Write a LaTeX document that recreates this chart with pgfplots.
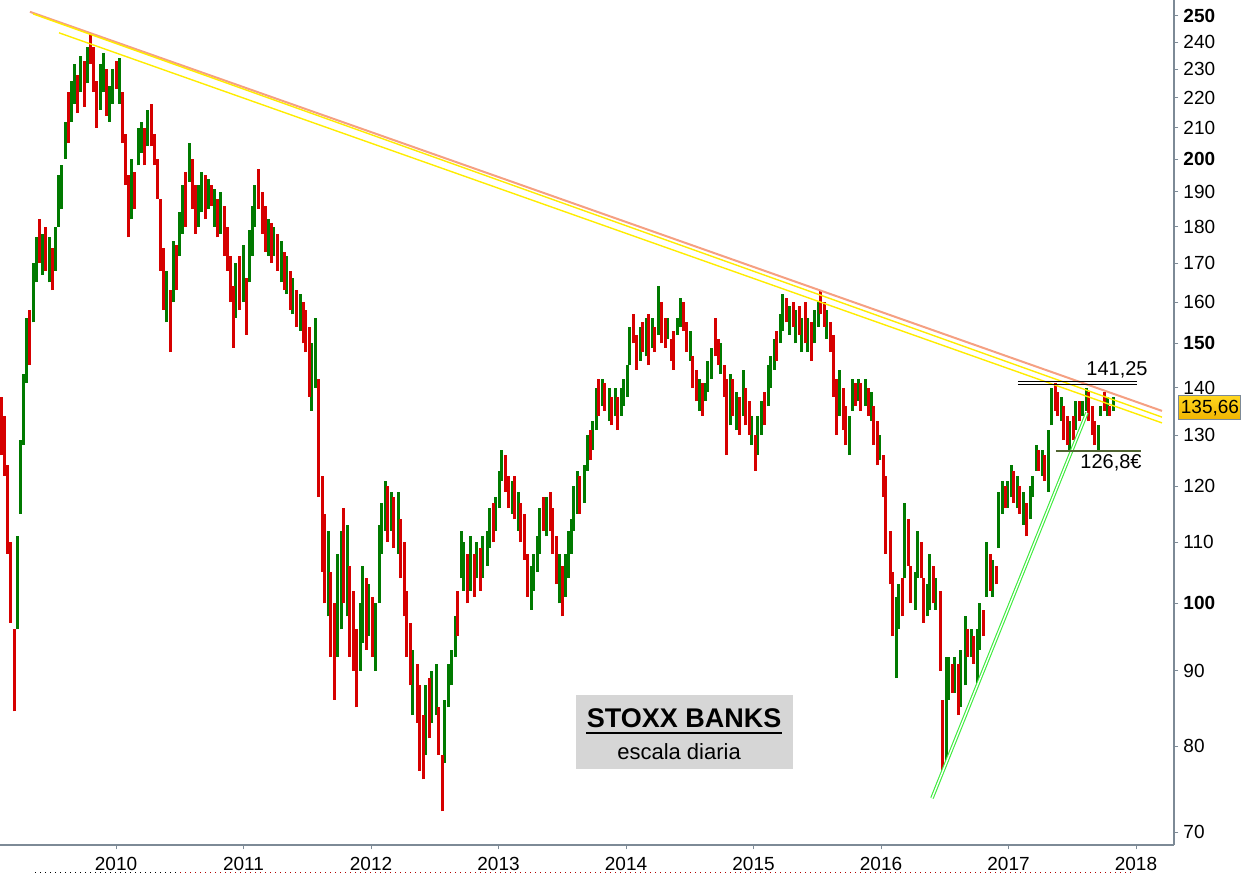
\documentclass[border=0pt]{standalone}
\usepackage{pgfplots}
\usepackage{pgfplotstable}
\pgfplotsset{compat=1.18}
\usepackage{fontspec}
\setmainfont{Liberation Sans}
\definecolor{upg}{RGB}{0,122,0}
\definecolor{dnr}{RGB}{214,0,0}
\definecolor{axg}{RGB}{125,138,150}
\definecolor{trorange}{RGB}{245,160,130}
\definecolor{tryellow}{RGB}{255,236,0}
\definecolor{trgreen}{RGB}{60,235,60}
\definecolor{supg}{RGB}{80,100,50}
\definecolor{boxgray}{RGB}{214,214,214}
\definecolor{goldtop}{RGB}{255,214,30}
\definecolor{goldbot}{RGB}{240,180,0}

\pgfplotstableread{
x lo hi c
2009.100 126 138 0
2009.125 122 134 0
2009.150 108 124 0
2009.175 97 110 0
2009.200 84.5 96 0
2009.225 96 111 1
2009.250 115 129 1
2009.275 128 143 1
2009.300 141 156 1
2009.325 145 158 0
2009.350 155 170 1
2009.375 165 177 1
2009.400 170 182 0
2009.425 167 178 1
2009.450 168 180 0
2009.475 165 177 1
2009.500 163 174 0
2009.525 168 180 1
2009.550 180 195 1
2009.575 185 198 1
2009.600 200 212 1
2009.625 205 222 0
2009.650 212 226 1
2009.675 218 232 1
2009.700 215 228 0
2009.725 222 235 1
2009.750 217 233 0
2009.775 225 238 1
2009.800 232 243 0
2009.825 222 238 0
2009.850 210 226 0
2009.875 216 232 1
2009.900 222 236 1
2009.925 214 230 0
2009.950 212 224 1
2009.975 218 230 1
2010.000 223 233 0
2010.024 218 234 1
2010.047 205 222 0
2010.071 192 208 0
2010.094 177 195 0
2010.118 182 200 1
2010.141 185 196 0
2010.173 198 210 1
2010.196 202 212 1
2010.220 198 210 0
2010.243 204 216 1
2010.275 204 218 0
2010.298 198 208 0
2010.322 188 200 0
2010.345 168 188 0
2010.369 158 174 0
2010.392 155 168 1
2010.424 148 163 0
2010.447 160 176 1
2010.471 163 175 0
2010.494 172 184 1
2010.518 178 192 1
2010.541 180 196 0
2010.573 193 205 1
2010.596 185 200 0
2010.620 178 192 0
2010.643 180 192 1
2010.667 184 196 1
2010.698 182 195 0
2010.722 185 194 1
2010.745 186 192 0
2010.769 180 191 1
2010.792 177 188 0
2010.816 178 190 1
2010.847 172 186 0
2010.871 168 180 0
2010.894 160 172 0
2010.918 149 164 0
2010.941 156 170 1
2010.965 158 172 0
2010.996 160 175 1
2011.020 152 166 0
2011.043 165 179 1
2011.067 172 186 1
2011.090 180 192 1
2011.114 185 197 0
2011.145 178 190 0
2011.169 173 186 0
2011.192 172 182 1
2011.216 170 181 0
2011.239 172 180 1
2011.263 168 178 0
2011.294 165 176 1
2011.318 163 173 0
2011.341 162 172 1
2011.365 158 168 0
2011.388 157 166 1
2011.412 154 163 0
2011.443 153 162 1
2011.467 150 160 0
2011.490 148 158 0
2011.514 138 154 0
2011.537 135 150 1
2011.561 140 156 1
2011.592 118 142 0
2011.616 105 122 0
2011.639 100 115 0
2011.663 98 112 1
2011.686 92 105 0
2011.710 86 100 0
2011.741 92 108 1
2011.765 96 112 1
2011.788 100 116 0
2011.812 98 113 1
2011.835 92 106 0
2011.859 90 102 0
2011.890 85 96 0
2011.914 90 100 1
2011.937 94 106 1
2011.961 93 104 0
2011.984 95 103 1
2012.008 92 101 0
2012.039 90 100 1
2012.063 100 113 1
2012.086 108 117 1
2012.110 112 121 1
2012.133 110 120 0
2012.157 112 119 1
2012.180 109 118 0
2012.212 108 119 1
2012.235 104 114 0
2012.259 98 110 0
2012.282 92 102 0
2012.306 88 97 0
2012.329 84 93 1
2012.361 83 91 0
2012.384 77 88 0
2012.408 76 84 0
2012.431 79 88 1
2012.455 81 89 0
2012.478 83 90 1
2012.510 84 91 1
2012.533 79 85 0
2012.557 72.3 79 0
2012.580 78 86 1
2012.604 85 91 1
2012.635 88 93 1
2012.659 92 98 1
2012.682 95 102 0
2012.706 104 112 1
2012.729 102 110 1
2012.753 100 108 0
2012.784 102 111 1
2012.808 101 108 0
2012.831 104 110 1
2012.855 102 109 0
2012.878 104 111 1
2012.910 106 112 1
2012.933 109 116 1
2012.957 110 117 0
2012.980 112 118 1
2013.004 116 123 1
2013.027 121 127 1
2013.051 119 126 0
2013.082 116 122 0
2013.106 115 121 1
2013.129 114 122 0
2013.153 112 119 1
2013.176 110 117 0
2013.200 107 115 0
2013.231 101 108 0
2013.255 99 106 1
2013.278 102 108 1
2013.302 105 111 1
2013.325 108 116 1
2013.349 112 118 0
2013.373 111 118 1
2013.404 112 119 0
2013.427 108 116 0
2013.451 103 111 0
2013.475 100 108 1
2013.498 98 106 0
2013.522 101 108 1
2013.545 104 112 1
2013.569 108 114 1
2013.592 112 120 1
2013.616 115 123 1
2013.639 115 122 0
2013.671 117 124 1
2013.694 123 130 1
2013.718 125 131 0
2013.741 127 133 1
2013.765 131 140 1
2013.788 134 142 0
2013.812 136 142 1
2013.835 135 141 0
2013.867 133 140 1
2013.890 132 138 0
2013.914 134 140 1
2013.937 131 138 0
2013.961 134 140 1
2013.984 136 142 1
2014.008 138 145 1
2014.031 145 154 1
2014.055 150 157 0
2014.086 144 152 0
2014.110 146 154 1
2014.133 148 155 0
2014.157 147 156 1
2014.180 145 157 0
2014.204 149 156 1
2014.227 148 154 0
2014.251 152 164 1
2014.282 150 160 0
2014.306 149 156 0
2014.329 151 156 1
2014.353 146 151 0
2014.376 144 153 0
2014.400 152 156 1
2014.424 154 161 1
2014.447 153 160 0
2014.478 148 155 0
2014.502 146 153 1
2014.525 140 147 0
2014.549 137 144 0
2014.573 135 142 1
2014.596 134 141 0
2014.620 137 141 1
2014.643 139 146 1
2014.667 142 149 1
2014.698 147 156 0
2014.722 145 151 0
2014.745 143 150 1
2014.769 138 145 0
2014.792 126 142 0
2014.816 132 143 1
2014.839 134 142 0
2014.863 131 139 1
2014.894 130 138 0
2014.918 134 144 1
2014.941 132 140 0
2014.965 130 137 0
2014.988 128 134 1
2015.012 123 130 0
2015.035 126 134 1
2015.059 130 137 1
2015.090 132 139 0
2015.114 136 145 1
2015.137 140 147 1
2015.161 144 151 1
2015.184 146 153 0
2015.208 150 157 1
2015.231 153 162 1
2015.255 155 161 0
2015.286 152 159 1
2015.310 154 160 0
2015.333 150 158 1
2015.357 152 159 0
2015.380 148 156 1
2015.404 150 160 0
2015.427 148 156 1
2015.451 146 155 0
2015.482 150 158 1
2015.506 154 160 1
2015.529 157 163 0
2015.553 154 160 0
2015.576 151 158 1
2015.600 148 155 0
2015.624 138 152 0
2015.647 130 142 0
2015.678 134 144 1
2015.702 131 140 0
2015.725 128 136 0
2015.749 126 134 1
2015.773 135 142 1
2015.796 136 141 0
2015.820 137 142 1
2015.843 135 141 0
2015.875 136 142 1
2015.898 134 140 0
2015.922 133 139 1
2015.945 128 136 0
2015.969 124 133 0
2015.992 125 130 1
2016.016 118 126 0
2016.039 108 122 0
2016.071 103 112 0
2016.094 95 105 0
2016.118 89 101 1
2016.141 96 103 1
2016.165 98 104 0
2016.188 104 117 1
2016.212 106 114 0
2016.235 100 106 0
2016.267 99 105 1
2016.290 104 112 1
2016.314 104 110 0
2016.337 97 104 0
2016.361 98 103 1
2016.384 99 108 1
2016.408 100 106 0
2016.431 99 104 1
2016.463 90 102 0
2016.486 77 86 0
2016.510 78 92 1
2016.533 86 92 1
2016.557 87 91 0
2016.580 87 92 1
2016.604 84 91 0
2016.627 85 93 1
2016.659 88 98 1
2016.682 92 96 0
2016.706 92 96 1
2016.729 91 95 0
2016.753 88 96 1
2016.776 93 100 1
2016.800 95 99 0
2016.824 101 110 1
2016.855 102 108 0
2016.878 101 107 1
2016.902 103 106 0
2016.925 109 119 1
2016.949 115 121 1
2016.973 116 120 0
2016.996 116 121 1
2017.020 118 124 1
2017.043 117 123 0
2017.067 116 122 1
2017.090 115 120 0
2017.114 113 119 1
2017.145 111 117 0
2017.169 114 120 1
2017.192 118 122 1
2017.216 123 128 1
2017.239 123 127 0
2017.263 122 127 1
2017.286 121 126 0
2017.310 119 131 1
2017.341 132 140 1
2017.365 135 141 0
2017.388 134 139 0
2017.412 133 138 1
2017.435 129 136 0
2017.459 128 134 0
2017.482 127 133 1
2017.506 129 134 0
2017.529 131 137 1
2017.553 133 137 0
2017.584 134 137 1
2017.608 135 140 1
2017.631 133 139 0
2017.655 130 136 0
2017.678 128 133 0
2017.702 127 132 1
2017.725 134 136 1
2017.749 135 139 0
2017.773 134 138 1
2017.796 134 136 0
2017.827 135 138 1
}\bars

\begin{document}
\begin{tikzpicture}
\path[use as bounding box] (0pt,-14.5pt) rectangle (621pt,422.5pt);
\begin{axis}[
  at={(0pt,0pt)}, anchor=south west,
  scale only axis, width=587pt, height=422.5pt,
  ymode=log,
  xmin=2009.09, xmax=2018.298, ymin=68.6, ymax=256.3,
  axis x line*=bottom, axis y line*=right,
  axis line style={draw=axg, line width=0.6pt},
  tick align=outside, major tick length=2.2pt,
  tick style={draw=axg, line width=0.5pt},
  minor tick style={draw=none},
  xtick={2010,2011,2012,2013,2014,2015,2016,2017,2018},
  xticklabels={2010,2011,2012,2013,2014,2015,2016,2017,2018},
  ytick={70,80,90,100,110,120,130,140,150,160,170,180,190,200,210,220,230,240,250},
  yticklabels={70,80,90,\textbf{100},110,120,130,140,\textbf{150},160,170,180,190,\textbf{200},210,220,230,240,\textbf{250}},
  tick label style={font=\fontsize{9.5}{11}\selectfont},
  yticklabel style={anchor=west, xshift=-1pt},
  xticklabel style={yshift=-0.5pt},
  clip mode=individual,
]
\addplot[draw=none, mark=none, forget plot,
  restrict expr to domain={\thisrow{c}}{0.5:1.5},
  error bars/.cd, y dir=plus, y explicit, error mark=none,
  error bar style={draw=upg, line width=1.5pt}]
  table[x=x, y=lo, y error expr=\thisrow{hi}-\thisrow{lo}] {\bars};
\addplot[draw=none, mark=none, forget plot,
  restrict expr to domain={\thisrow{c}}{-0.5:0.5},
  error bars/.cd, y dir=plus, y explicit, error mark=none,
  error bar style={draw=dnr, line width=1.5pt}]
  table[x=x, y=lo, y error expr=\thisrow{hi}-\thisrow{lo}] {\bars};

% trend lines
\addplot[trorange, line width=1pt, forget plot] coordinates {(2009.325,251.6) (2018.204,135.0)};
\addplot[tryellow, line width=0.7pt, forget plot] coordinates {(2009.349,250.8) (2018.204,133.7)};
\addplot[tryellow, line width=0.7pt, forget plot] coordinates {(2009.553,243.5) (2018.204,132.5)};
\addplot[trgreen, line width=0.55pt, double=white, double distance=0.7pt, forget plot] coordinates {(2016.400,73.8) (2017.615,134.6)};
% resistance / support
\addplot[black, line width=0.5pt, forget plot] coordinates {(2017.074,141.25) (2018.008,141.25)};
\addplot[black, line width=0.5pt, forget plot] coordinates {(2017.074,140.6) (2018.008,140.6)};
\addplot[supg, line width=0.6pt, forget plot] coordinates {(2017.372,126.8) (2018.039,126.8)};

\node[font=\fontsize{10}{12}\selectfont] at (axis cs:2017.851,143.9) {141,25};
\node[font=\fontsize{10}{12}\selectfont] at (axis cs:2017.804,124.5) {126,8€};

\fill[boxgray] (axis cs:2013.608,77.2) rectangle (axis cs:2015.310,86.7);
\node[font=\bfseries\fontsize{13.5}{16}\selectfont, inner sep=0pt] (ttl) at (axis cs:2014.455,83.6) {STOXX BANKS};
\draw[line width=1pt] ([yshift=-2.6pt]ttl.south west) -- ([yshift=-2.6pt]ttl.south east);
\node[font=\fontsize{11}{13}\selectfont] at (axis cs:2014.416,79.3) {escala diaria};

\node[draw=axg, line width=0.5pt, top color=goldtop, bottom color=goldbot,
  inner sep=0pt, minimum width=31pt, minimum height=12pt,
  font=\fontsize{9.5}{11}\selectfont] at (axis cs:2018.580,135.66) {135,66};
\end{axis}
\draw[black, dotted, line width=0.5pt] (17.5pt,-13.5pt) -- (90pt,-13.5pt);
\draw[red!70!black, dotted, line width=0.5pt] (90pt,-13.5pt) -- (566.5pt,-13.5pt);
\end{tikzpicture}
\end{document}
